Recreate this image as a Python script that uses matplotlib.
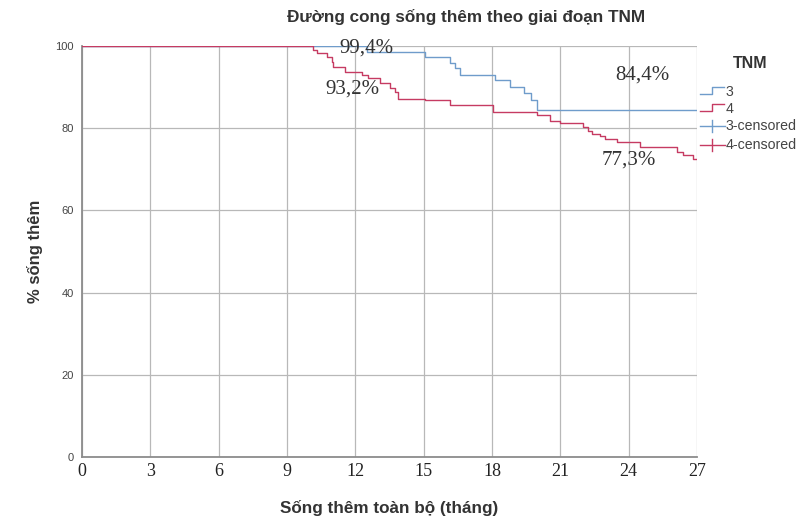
import numpy as np
import matplotlib
matplotlib.use("Agg")
import matplotlib.pyplot as plt
from matplotlib.lines import Line2D

# Kaplan-Meier steps (month, % surviving)
t_stage3 = [0, 12.5, 15.06, 16.15, 16.37, 16.6, 18.13, 18.8, 19.4, 19.7, 19.96, 27]
s_stage3 = [100, 98.6, 97.2, 95.9, 94.6, 92.9, 91.7, 90.1, 88.5, 86.8, 84.4, 84.4]

t_stage4 = [0, 10.14, 10.3, 10.75, 10.97, 11.02, 11.55, 12.3, 12.55, 13.08, 13.52,
            13.74, 13.87, 15.06, 16.15, 18.04, 19.96, 20.55, 20.99, 22.0, 22.2,
            22.4, 22.74, 22.96, 23.5, 24.5, 26.12, 26.38, 26.82, 27]
s_stage4 = [100, 99.0, 98.2, 97.4, 96.2, 94.9, 93.7, 92.9, 92.2, 91.0, 89.8,
            88.8, 87.2, 86.8, 85.6, 84.0, 83.2, 81.8, 81.3, 80.2, 79.4,
            78.6, 78.2, 77.4, 76.6, 75.4, 74.2, 73.4, 72.6, 72.6]

# annotated survival rates
notes = ["99,4%", "93,2%", "84,4%", "77,3%"]
note_xy = [(12.5, 99.4), (11.85, 89.6), (24.6, 92.8), (24.0, 72.3)]

x_ticks = [0, 3, 6, 9, 12, 15, 18, 21, 24, 27]
y_ticks = [0, 20, 40, 60, 80, 100]

legend_labels = ["3", "4", "3-censored", "4-censored"]

blue = "#6f9ccb"
red = "#c63b62"
grid_c = "#b8b8b8"
W, H = 801, 522

fig = plt.figure(figsize=(8.01, 5.22), dpi=100)
ax = fig.add_axes([0.1024, 0.1245, 0.7678, 0.7875])

ax.step(t_stage3, s_stage3, where="post", color=blue, lw=1.0, zorder=3)
ax.step(t_stage4, s_stage4, where="post", color=red, lw=1.0, zorder=4)

for txt, (x, y) in zip(notes, note_xy):
    ax.text(x, y, txt, family="Liberation Serif", fontsize=15, color="#333333",
            ha="center", va="center", zorder=5)

ax.set_xlim(0, 27)
ax.set_ylim(0, 100)
ax.set_xticks(x_ticks)
ax.set_yticks(y_ticks)
ax.set_xticklabels([str(v) for v in x_ticks], family="Liberation Serif",
                   fontsize=13, color="#222222")
ax.set_yticklabels([str(v) for v in y_ticks], family="Liberation Sans",
                   fontsize=8, color="#444444")
ax.tick_params(axis="x", length=0, pad=4)
ax.tick_params(axis="y", length=0, pad=6)
ax.grid(True, color=grid_c, lw=0.9)
ax.set_axisbelow(True)
for side in ["top", "right"]:
    ax.spines[side].set_visible(False)
for side in ["left", "bottom"]:
    ax.spines[side].set_color("#8c8c8c")
    ax.spines[side].set_linewidth(1.3)

fig.text(466 / W, 1 - 17 / H, "Đường cong sống thêm theo giai đoạn TNM",
         family="Liberation Sans", fontsize=12.3, fontweight="bold",
         color="#333333", ha="center", va="center")
ax.set_xlabel("Sống thêm toàn bộ (tháng)", family="Liberation Sans",
              fontsize=12.3, fontweight="bold", color="#333333", labelpad=15)
ax.set_ylabel("% sống thêm", family="Liberation Sans", fontsize=12,
              fontweight="bold", color="#333333", labelpad=9)

# legend drawn by hand, positions in pixels from top-left
fig.text(750 / W, 1 - 63 / H, "TNM", family="Liberation Sans", fontsize=11.5,
         fontweight="bold", color="#333333", ha="center", va="center")
rows_y = [92, 109, 126, 145]
colors = [blue, red, blue, red]
for i, (lab, yy, c) in enumerate(zip(legend_labels, rows_y, colors)):
    if i < 2:
        xs = [700, 712, 712, 724]
        ys = [yy + 2, yy + 2, yy - 5, yy - 5]
    else:
        xs = [700, 725]
        ys = [yy, yy]
        fig.add_artist(Line2D([712 / W, 712 / W], [1 - (yy - 6) / H, 1 - (yy + 6) / H],
                              color=c, lw=1.0, transform=fig.transFigure))
    fig.add_artist(Line2D([x / W for x in xs], [1 - y / H for y in ys],
                          color=c, lw=1.0, transform=fig.transFigure))
    fig.text(726 / W, 1 - yy / H, lab, family="Liberation Sans", fontsize=10.2,
             color="#444444", ha="left", va="center")

fig.savefig("out.png", dpi=100)
